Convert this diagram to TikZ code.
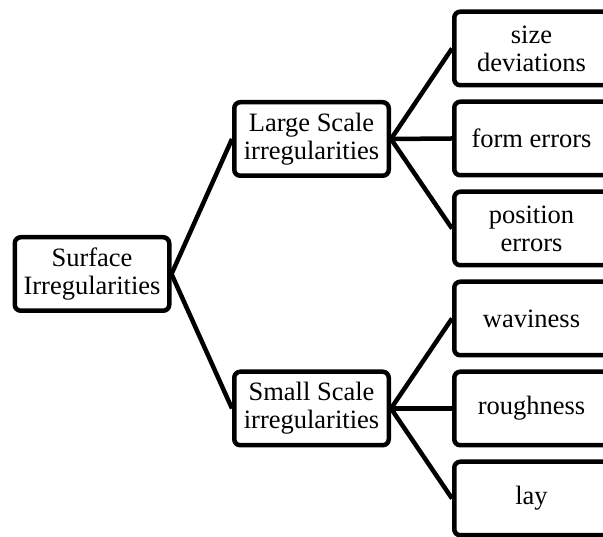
\documentclass[tikz,border=0pt]{standalone}
\usepackage{fontspec}
\setmainfont{Liberation Serif}
\begin{document}
\begin{tikzpicture}[
  x = 1pt,
  y = 1pt,
  box/.style = {
    shape = rectangle,
    draw = black,
    rounded corners = 6pt,
    minimum width = 154.5pt,
    minimum height = 73.5pt,
    inner sep = 0pt,
    align = center,
    font = \fontsize{26.5}{28}\selectfont
  },
  every path/.style = {
    line width = 4.5pt
  }
]
  \useasboundingbox (0, 0) rectangle (603, 537);

  \node[box] (surf) at (92, 263) {Surface\\Irregularities};

  \node[box] (large) at (311.5, 398) {Large Scale\\irregularities};
  \node[box] (small) at (311.5, 128.5) {Small Scale\\irregularities};

  \node[box] (size) at (531.5, 488.5) {size\\deviations};
  \node[box] (form) at (531.5, 398.5) {form errors};
  \node[box] (pos) at (531.5, 308.5) {position\\errors};

  \node[box] (wavy) at (531.5, 218.5) {waviness};
  \node[box] (rough) at (531.5, 128.5) {roughness};
  \node[box] (lay) at (531.5, 38.5) {lay};

  \draw (surf.east) -- (large.west);
  \draw (surf.east) -- (small.west);
  \draw (large.east) -- (size.west);
  \draw (large.east) -- (form.west);
  \draw (large.east) -- (pos.west);
  \draw (small.east) -- (wavy.west);
  \draw (small.east) -- (rough.west);
  \draw (small.east) -- (lay.west);
\end{tikzpicture}
\end{document}
